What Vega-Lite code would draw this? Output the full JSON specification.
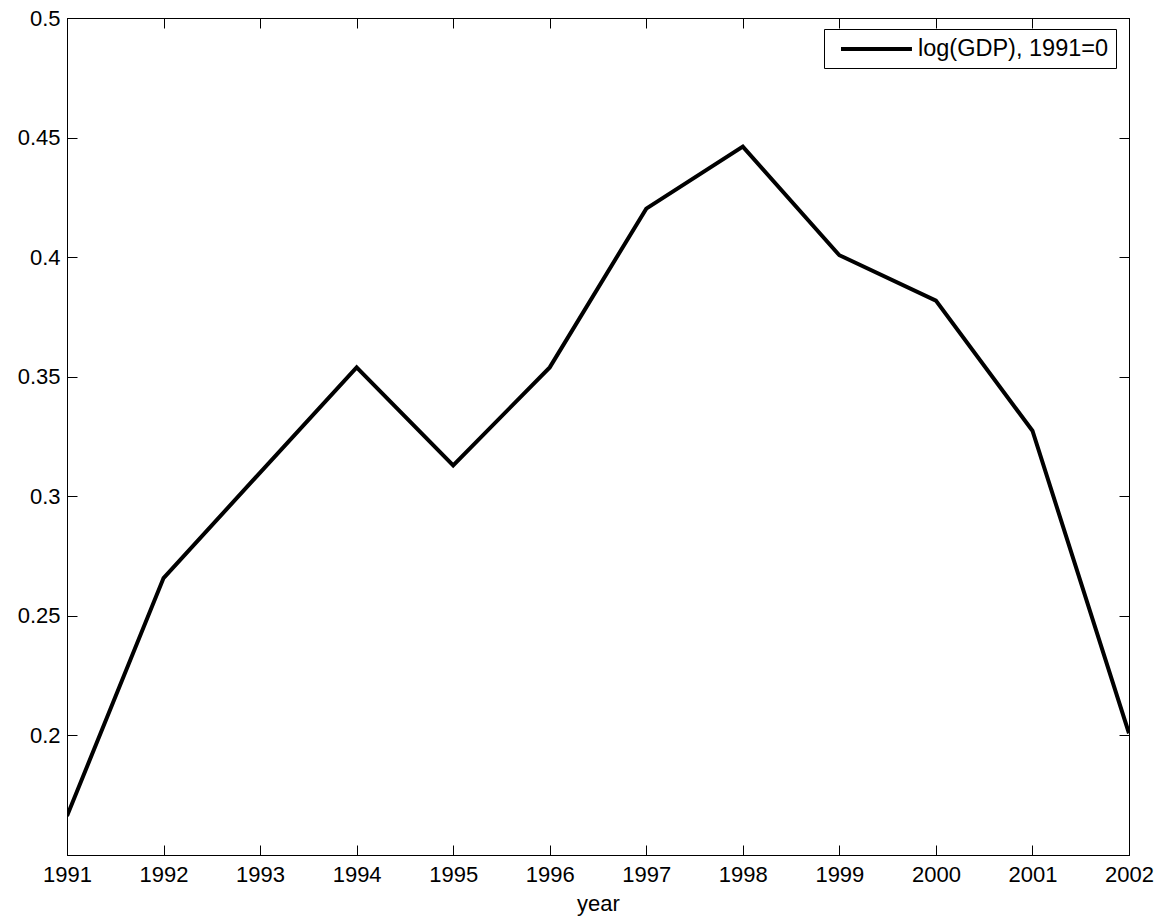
{
  "$schema": "https://vega.github.io/schema/vega-lite/v6.json",
  "width": 1062,
  "height": 837,
  "autosize": {"type": "none"},
  "padding": {"left": 67, "top": 18, "right": 47, "bottom": 66},
  "background": "white",
  "config": {
    "view": {"stroke": "black", "strokeWidth": 1},
    "font": "Liberation Sans",
    "axis": {
      "grid": false,
      "domainColor": "black",
      "domainWidth": 1,
      "tickColor": "black",
      "tickWidth": 1,
      "tickSize": -10,
      "labelColor": "black",
      "labelFont": "Liberation Sans",
      "labelFontSize": 22,
      "titleFont": "Liberation Sans",
      "titleFontSize": 22,
      "titleFontWeight": "normal",
      "titleColor": "black",
      "labelFlush": false,
      "labelOverlap": false,
      "labelBound": false
    }
  },
  "data": {
    "values": [
      {"year": 1991, "value": 0.1663, "series": "log(GDP), 1991=0"},
      {"year": 1992, "value": 0.2658, "series": "log(GDP), 1991=0"},
      {"year": 1993, "value": 0.3099, "series": "log(GDP), 1991=0"},
      {"year": 1994, "value": 0.3539, "series": "log(GDP), 1991=0"},
      {"year": 1995, "value": 0.3129, "series": "log(GDP), 1991=0"},
      {"year": 1996, "value": 0.3539, "series": "log(GDP), 1991=0"},
      {"year": 1997, "value": 0.4203, "series": "log(GDP), 1991=0"},
      {"year": 1998, "value": 0.4462, "series": "log(GDP), 1991=0"},
      {"year": 1999, "value": 0.4008, "series": "log(GDP), 1991=0"},
      {"year": 2000, "value": 0.3818, "series": "log(GDP), 1991=0"},
      {"year": 2001, "value": 0.3274, "series": "log(GDP), 1991=0"},
      {"year": 2002, "value": 0.2009, "series": "log(GDP), 1991=0"}
    ]
  },
  "layer": [
    {
      "mark": {"type": "line", "strokeWidth": 4, "strokeJoin": "miter", "clip": true},
      "encoding": {
        "x": {
          "field": "year", "type": "quantitative",
          "scale": {"domain": [1991, 2002], "nice": false, "zero": false},
          "axis": {
            "orient": "bottom",
            "values": [1991, 1992, 1993, 1994, 1995, 1996, 1997, 1998, 1999, 2000, 2001, 2002],
            "format": "d",
            "title": "year",
            "labelPadding": 19,
            "titlePadding": 8
          }
        },
        "y": {
          "field": "value", "type": "quantitative",
          "scale": {"domain": [0.15, 0.5], "nice": false, "zero": false},
          "axis": {
            "orient": "left",
            "values": [0.2, 0.25, 0.3, 0.35, 0.4, 0.45, 0.5],
            "format": "~g",
            "title": null,
            "labelPadding": 17
          }
        },
        "color": {
          "field": "series", "type": "nominal",
          "scale": {"range": ["black"]},
          "legend": {
            "orient": "none",
            "legendX": 757,
            "legendY": 11,
            "title": null,
            "strokeColor": "black",
            "fillColor": "white",
            "padding": 7,
            "symbolType": "M-1,0H5.45",
            "symbolSize": 484,
            "symbolStrokeWidth": 4,
            "symbolStrokeColor": "black",
            "symbolFillColor": "transparent",
            "symbolOffset": 8,
            "labelOffset": 53,
            "labelLimit": 0,
            "labelFont": "Liberation Sans",
            "labelFontSize": 23.5,
            "labelColor": "black"
          }
        }
      }
    },
    {
      "mark": {"type": "line", "strokeOpacity": 0},
      "encoding": {
        "x": {
          "field": "year", "type": "quantitative",
          "axis": {
            "orient": "top",
            "values": [1991, 1992, 1993, 1994, 1995, 1996, 1997, 1998, 1999, 2000, 2001, 2002],
            "labels": false,
            "title": null
          }
        },
        "y": {
          "field": "value", "type": "quantitative",
          "axis": {
            "orient": "right",
            "values": [0.2, 0.25, 0.3, 0.35, 0.4, 0.45, 0.5],
            "labels": false,
            "title": null
          }
        }
      }
    }
  ],
  "resolve": {"axis": {"x": "independent", "y": "independent"}}
}
